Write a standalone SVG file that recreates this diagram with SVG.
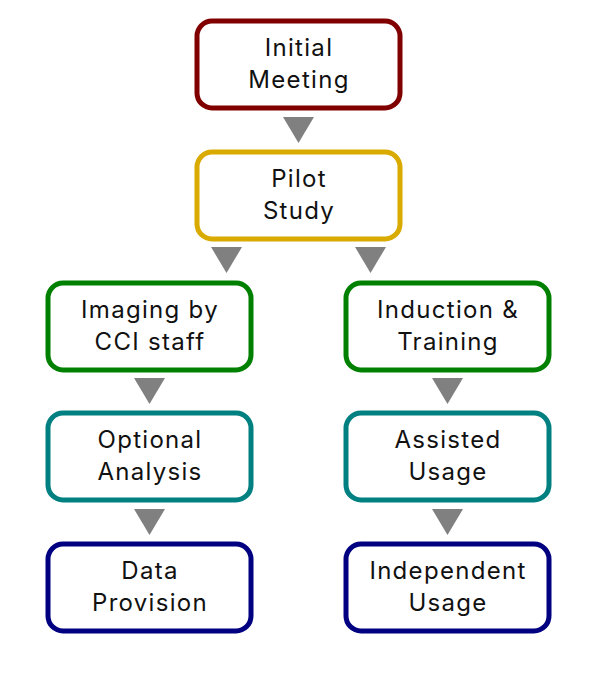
<svg xmlns="http://www.w3.org/2000/svg" width="600" height="680" viewBox="0 0 600 680">
<style>
.box{fill:#fff;stroke-width:5}
.t{font-family:"Inter","Noto Sans","Liberation Sans",sans-serif;font-size:24px;letter-spacing:1.3px;fill:#111;text-anchor:middle}
.arr{fill:#808080}
</style>
<rect width="600" height="680" fill="#fff"/>
<g id="connectors">
<polygon class="arr" points="283,117 314,117 298.5,143"/>
<polygon class="arr" points="211,247 242,247 226.5,273"/>
<polygon class="arr" points="355,247 386,247 370.5,273"/>
<polygon class="arr" points="134,378 165,378 149.5,404"/>
<polygon class="arr" points="432,378 463,378 447.5,404"/>
<polygon class="arr" points="134,509 165,509 149.5,535"/>
<polygon class="arr" points="432,509 463,509 447.5,535"/>
</g>
<g id="initial-meeting"><rect class="box" x="197" y="21" width="203" height="87" rx="15" stroke="#800000"/><text class="t" x="299" y="56">Initial</text><text class="t" x="299" y="88">Meeting</text></g>
<g id="pilot-study"><rect class="box" x="197" y="152" width="203" height="87" rx="15" stroke="#d9aa00"/><text class="t" x="299" y="187">Pilot</text><text class="t" x="299" y="219">Study</text></g>
<g id="imaging"><rect class="box" x="48" y="283" width="203" height="87" rx="15" stroke="#008000"/><text class="t" x="150" y="318">Imaging by</text><text class="t" x="150" y="350">CCI staff</text></g>
<g id="induction"><rect class="box" x="346" y="283" width="203" height="87" rx="15" stroke="#008000"/><text class="t" x="448" y="318">Induction &amp;</text><text class="t" x="448" y="350">Training</text></g>
<g id="optional-analysis"><rect class="box" x="48" y="413" width="203" height="87" rx="15" stroke="#008080"/><text class="t" x="150" y="448">Optional</text><text class="t" x="150" y="480">Analysis</text></g>
<g id="assisted-usage"><rect class="box" x="346" y="413" width="203" height="87" rx="15" stroke="#008080"/><text class="t" x="448" y="448">Assisted</text><text class="t" x="448" y="480">Usage</text></g>
<g id="data-provision"><rect class="box" x="48" y="544" width="203" height="87" rx="15" stroke="#000080"/><text class="t" x="150" y="579">Data</text><text class="t" x="150" y="611">Provision</text></g>
<g id="independent-usage"><rect class="box" x="346" y="544" width="203" height="87" rx="15" stroke="#000080"/><text class="t" x="448" y="579">Independent</text><text class="t" x="448" y="611">Usage</text></g>
</svg>
